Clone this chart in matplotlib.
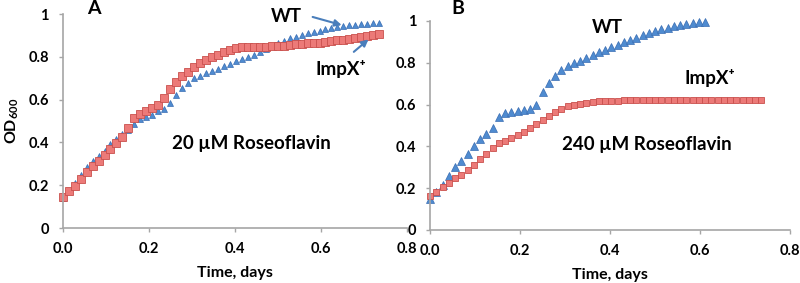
import matplotlib
matplotlib.use("Agg")
import matplotlib.pyplot as plt
import numpy as np

plt.rcParams.update({
    "font.family": ["Lato", "DejaVu Sans"],
    "font.weight": "bold",
    "mathtext.fontset": "custom",
    "mathtext.rm": "Lato:bold",
    "mathtext.bf": "Lato:bold",
})

# ── Data (readings every 20 min = 1/72 day) ─────────────
STEP = 1 / 72

a_wt = [0.140, 0.172, 0.212, 0.250, 0.285, 0.312, 0.338, 0.362, 0.392, 0.418,
        0.440, 0.458, 0.488, 0.509, 0.520, 0.530, 0.545, 0.556, 0.584, 0.622,
        0.655, 0.680, 0.700, 0.712, 0.723, 0.732, 0.743, 0.756, 0.768, 0.779,
        0.791, 0.800, 0.811, 0.824, 0.838, 0.852, 0.864, 0.876, 0.886, 0.895,
        0.903, 0.910, 0.917, 0.923, 0.929, 0.935, 0.940, 0.944, 0.947, 0.950,
        0.953, 0.955, 0.957, 0.958]
a_impx = [0.146, 0.173, 0.196, 0.227, 0.262, 0.291, 0.315, 0.340, 0.368, 0.399,
          0.427, 0.466, 0.512, 0.533, 0.547, 0.559, 0.573, 0.606, 0.648, 0.684,
          0.710, 0.730, 0.751, 0.770, 0.785, 0.797, 0.810, 0.823, 0.834, 0.842,
          0.846, 0.848, 0.848, 0.848, 0.848, 0.849, 0.850, 0.852, 0.855, 0.858,
          0.861, 0.863, 0.865, 0.867, 0.870, 0.873, 0.877, 0.880, 0.884, 0.889,
          0.894, 0.899, 0.904, 0.909]

b_wt = [0.147, 0.180, 0.215, 0.258, 0.300, 0.330, 0.364, 0.403, 0.437, 0.458,
        0.490, 0.539, 0.561, 0.566, 0.570, 0.573, 0.580, 0.598, 0.662, 0.705,
        0.738, 0.764, 0.783, 0.800, 0.810, 0.824, 0.837, 0.850, 0.863, 0.875,
        0.887, 0.900, 0.910, 0.920, 0.933, 0.942, 0.952, 0.960, 0.968, 0.974,
        0.980, 0.986, 0.990, 0.993, 0.997]
b_impx = [0.164, 0.183, 0.204, 0.226, 0.247, 0.265, 0.287, 0.311, 0.338, 0.366,
          0.391, 0.414, 0.426, 0.439, 0.455, 0.470, 0.487, 0.506, 0.527, 0.546,
          0.565, 0.580, 0.591, 0.599, 0.605, 0.610, 0.613, 0.615, 0.617, 0.618,
          0.619, 0.620, 0.620, 0.621, 0.621, 0.621, 0.622, 0.622, 0.622, 0.622,
          0.622, 0.623, 0.623, 0.623, 0.624, 0.624, 0.624, 0.624, 0.624, 0.623,
          0.623, 0.622, 0.622, 0.622]

x_ticks = [0.0, 0.2, 0.4, 0.6, 0.8]
y_ticks = [0, 0.2, 0.4, 0.6, 0.8, 1]
y_tick_labels = ["0", "0.2", "0.4", "0.6", "0.8", "1"]

# ── Style ──────────────────────────────────────────────
GREY = "#a6a6a6"
BLUE_FACE, BLUE_EDGE = "#4f8bd0", "#3a6db2"
RED_FACE, RED_EDGE = "#ec7a78", "#c9504d"
ARROW = "#4a7ebb"


def times(values):
    return np.arange(len(values)) * STEP


def style_axes(ax):
    ax.set_xlim(0, 0.8)
    ax.set_ylim(0, 1)
    ax.set_xticks(x_ticks)
    ax.set_xticklabels([f"{v:.1f}" for v in x_ticks])
    ax.set_yticks(y_ticks)
    ax.set_yticklabels(y_tick_labels)
    for side in ("top", "right"):
        ax.spines[side].set_visible(False)
    for side in ("left", "bottom"):
        ax.spines[side].set_color(GREY)
        ax.spines[side].set_linewidth(1.2)
    ax.tick_params(axis="both", direction="out", length=3, width=1, color=GREY,
                   labelsize=10.5, labelcolor="black")
    ax.tick_params(axis="x", pad=7)
    ax.tick_params(axis="y", pad=7)
    ax.set_xlabel("Time, days", fontsize=11.5, fontweight="bold", labelpad=7)


def plot_series(ax, wt, impx, tri_size, sq_size):
    ax.plot(times(wt), wt, linestyle="none", marker="^", markersize=tri_size,
            markerfacecolor=BLUE_FACE, markeredgecolor=BLUE_EDGE, markeredgewidth=0.5,
            clip_on=False)
    ax.plot(times(impx), impx, linestyle="none", marker="s", markersize=sq_size,
            markerfacecolor=RED_FACE, markeredgecolor=RED_EDGE, markeredgewidth=0.6,
            clip_on=False)


fig = plt.figure(figsize=(8, 2.83), dpi=100)
ax_a = fig.add_axes([0.0784, 0.1943, 0.43, 0.756])
ax_b = fig.add_axes([0.5375, 0.1873, 0.45, 0.7385])

# Panel A
plot_series(ax_a, a_wt, a_impx, 5, 5.4)
style_axes(ax_a)
ax_a.set_ylabel("OD$_{600}$", fontsize=11.5, fontweight="bold", labelpad=5)
ax_a.text(0.52, 0.987, "WT", ha="center", va="center", fontsize=13.5, fontweight="bold")
ax_a.text(0.647, 0.745, "ImpX\u207a", ha="center", va="center", fontsize=13.5,
          fontweight="bold")
ax_a.text(0.438, 0.395, "20 \u00b5M Roseoflavin", ha="center", va="center",
          fontsize=13.5, fontweight="bold")
ax_a.annotate("", xy=(0.655, 0.945), xytext=(0.575, 0.99),
              arrowprops=dict(arrowstyle="-|>", color=ARROW, lw=1.5, mutation_scale=10))
ax_a.annotate("", xy=(0.716, 0.89), xytext=(0.672, 0.815),
              arrowprops=dict(arrowstyle="-|>", color=ARROW, lw=1.5, mutation_scale=10))

# Panel B
plot_series(ax_b, b_wt, b_impx, 5.2, 4.6)
style_axes(ax_b)
ax_b.text(0.394, 0.969, "WT", ha="center", va="center", fontsize=13.5, fontweight="bold")
ax_b.text(0.623, 0.727, "ImpX\u207a", ha="center", va="center", fontsize=13.5,
          fontweight="bold")
ax_b.text(0.482, 0.409, "240 \u00b5M Roseoflavin", ha="center", va="center",
          fontsize=13.5, fontweight="bold")

fig.text(94 / 800, 1 - 8 / 283, "A", ha="center", va="center", fontsize=14,
         fontweight="bold")
fig.text(458 / 800, 1 - 9 / 283, "B", ha="center", va="center", fontsize=14,
         fontweight="bold")

fig.savefig("out.png", dpi=100)
